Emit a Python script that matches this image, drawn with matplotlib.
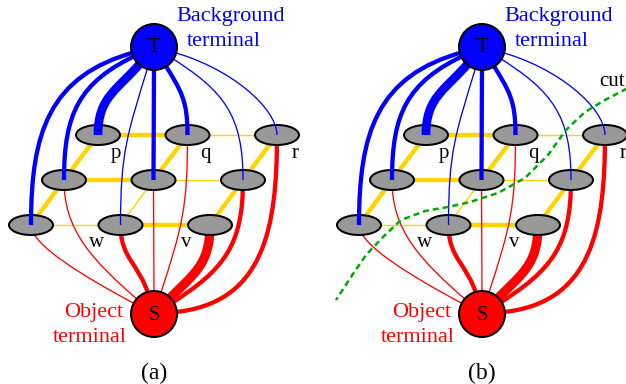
import numpy as np
import matplotlib
matplotlib.use('Agg')
import matplotlib.pyplot as plt
from matplotlib.patches import Ellipse, Circle, PathPatch
from matplotlib.path import Path

plt.rcParams['font.family'] = ['Liberation Serif', 'DejaVu Serif']

# --- graph layout (pixel units, y pointing down) ---
row_y = [135, 180, 225]
row_x0 = [98, 64, 31]
col_dx = 89.5
T_pos = (154, 47)
S_pos = (154, 314)
term_r = 23
panel_dx = [0, 328]
panel_names = ['(a)', '(b)']

# n-link weights (px): horizontal per row, diagonal between row i+1 and row i
h_links = [[4, 1], [4, 1], [1, 4]]
d_links = [[4, 4, 4], [4, 1, 4]]

# t-links to background terminal T: width, leaving angle at T (deg)
t_width = [[8.5, 4, 1], [4, 4, 1], [4, 1, 0]]
t_angle = [[130, 58, 15], [155, 90, 32], [165, 107, 0]]
# t-links to object terminal S
s_width = [[0, 1, 4], [1, 1, 4], [1, 4, 9]]
s_angle = [[0, -72, -5], [-139, -90, -32], [-152, -106, -45]]

node_labels = {(0, 0): 'p', (0, 1): 'q', (0, 2): 'r', (2, 1): 'w', (2, 2): 'v'}

# cut curve in panel (b)
cut_x = [632, 605, 585, 566, 548, 525, 498, 470, 448, 425, 401, 383, 366, 353, 336]
cut_y = [86, 100, 112, 130, 155, 178, 193, 202, 207, 211, 220, 237, 255, 274, 300]

PX = 0.72  # px -> pt at dpi 100

# bend tweaks (start factor, end factor)
t_bend = {(0, 2): (0.45, 0.2)}
s_bend = {(2, 0): (0.45, 0.15), (1, 0): (0.45, 0.35)}


def node_xy(i, j, dx):
    return (row_x0[i] + j * col_dx + dx, row_y[i])


def bezier(ax, p0, p1, p2, p3, lw, color, z):
    path = Path([p0, p1, p2, p3], [Path.MOVETO, Path.CURVE4, Path.CURVE4, Path.CURVE4])
    ax.add_patch(PathPatch(path, facecolor='none', edgecolor=color,
                           lw=lw * PX, capstyle='butt', zorder=z))


fig = plt.figure(figsize=(6.26, 3.84), dpi=100)
ax = fig.add_axes([0, 0, 1, 1])
ax.set_xlim(0, 626)
ax.set_ylim(384, 0)
ax.axis('off')

for k, dx in enumerate(panel_dx):
    tx, ty = T_pos[0] + dx, T_pos[1]
    sx, sy = S_pos[0] + dx, S_pos[1]

    # n-links
    for i in range(3):
        for j in range(2):
            a = node_xy(i, j, dx)
            b = node_xy(i, j + 1, dx)
            ax.plot([a[0], b[0]], [a[1], b[1]], color='#FFD400',
                    lw=h_links[i][j] * PX + 0.3, zorder=1)
    for i in range(2):
        for j in range(3):
            a = node_xy(i + 1, j, dx)
            b = node_xy(i, j, dx)
            ax.plot([a[0], b[0]], [a[1], b[1]], color='#FFD400',
                    lw=d_links[i][j] * PX + 0.3, zorder=1)

    for i in range(3):
        for j in range(3):
            nx, ny = node_xy(i, j, dx)
            # t-link to T (drawn above the node)
            w = t_width[i][j]
            if w:
                ang = np.radians(t_angle[i][j])
                u = np.array([np.cos(ang), np.sin(ang)])
                p0 = np.array([tx, ty]) + 0.8 * term_r * u
                L = np.hypot(nx - p0[0], ny - p0[1])
                fa, fb = t_bend.get((i, j), (0.45, 0.45))
                bezier(ax, p0, p0 + fa * L * u, (nx, ny - fb * L), (nx, ny),
                       w + 0.3, '#0000FF', 4)
            # t-link to S (drawn below the node)
            w = s_width[i][j]
            if w:
                ang = np.radians(s_angle[i][j])
                u = np.array([np.cos(ang), np.sin(ang)])
                p3 = np.array([sx, sy]) + 0.8 * term_r * u
                L = np.hypot(nx - p3[0], ny - p3[1])
                fb, fa = s_bend.get((i, j), (0.45, 0.45))
                bezier(ax, (nx, ny), (nx, ny + fa * L), p3 + fb * L * u, p3,
                       w + 0.3, '#FF0000', 2)
            ax.add_patch(Ellipse((nx, ny), 44, 20, facecolor='#999999',
                                 edgecolor='black', lw=2 * PX, zorder=3))

    for (i, j), lab in node_labels.items():
        nx, ny = node_xy(i, j, dx)
        off = (18, 23) if i == 0 else (-24, 22)
        ax.text(nx + off[0], ny + off[1], lab, fontsize=15, ha='center',
                va='baseline', zorder=6)

    ax.add_patch(Circle((tx, ty), term_r, facecolor='#0000FF', edgecolor='black',
                        lw=2 * PX, zorder=5))
    ax.add_patch(Circle((sx, sy), term_r, facecolor='#FF0000', edgecolor='black',
                        lw=2 * PX, zorder=5))
    ax.text(tx, ty + 1, 'T', fontsize=15, ha='center', va='center', zorder=6)
    ax.text(sx, sy + 1, 'S', fontsize=15, ha='center', va='center', zorder=6)

    ax.text(tx + 77, 17, 'Background', fontsize=16, color='#0000FF',
            ha='center', va='center')
    ax.text(tx + 70, 42, 'terminal', fontsize=16, color='#0000FF',
            ha='center', va='center')
    ax.text(sx - 60, 313, 'Object', fontsize=16, color='#FF0000',
            ha='center', va='center')
    ax.text(sx - 64, 338, 'terminal', fontsize=16, color='#FF0000',
            ha='center', va='center')
    ax.text(tx, 373, panel_names[k], fontsize=17, ha='center', va='center')

ax.plot(cut_x, cut_y, color='#00AA00', lw=2.5 * PX, ls=(0, (2.4, 1.6)), zorder=7)
ax.text(612, 81, 'cut', fontsize=15, ha='center', va='center')

fig.savefig('out.png', dpi=100)
